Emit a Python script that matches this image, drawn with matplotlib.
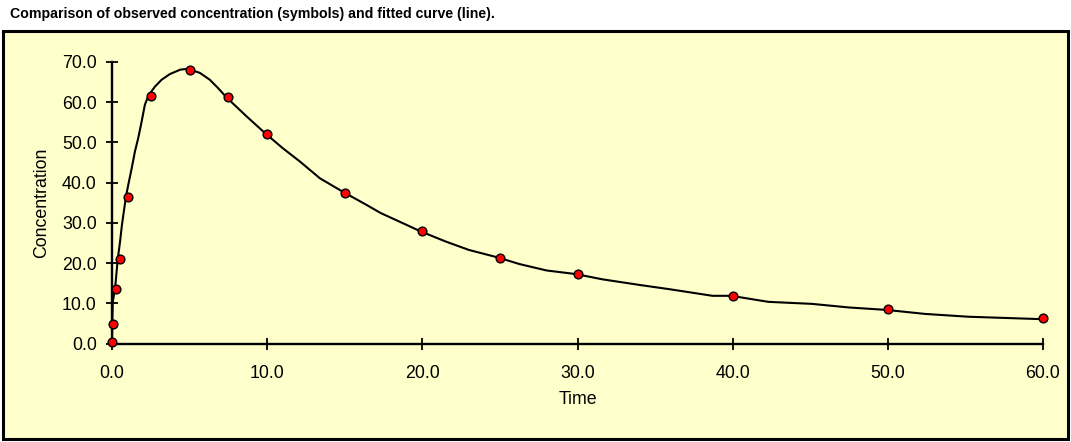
import matplotlib.pyplot as plt
from matplotlib.patches import Rectangle

plt.rcParams['font.family'] = ['Liberation Sans', 'DejaVu Sans']

# observed samples
obs_time = [0.0, 0.05, 0.25, 0.5, 1.0, 2.5, 5.0, 7.5, 10.0, 15.0, 20.0, 25.0, 30.0, 40.0, 50.0, 60.0]
obs_conc = [0.4, 5.0, 13.7, 21.1, 36.5, 61.6, 68.1, 61.2, 52.2, 37.5, 27.9, 21.4, 17.4, 11.9, 8.5, 6.5]

# fitted model curve
fit_time = [0.0, 0.02, 0.05, 0.2, 0.37, 0.52, 0.64, 0.9, 1.05, 1.27, 1.48, 1.69, 1.91,
            2.12, 2.36, 2.77, 3.2, 3.73, 4.4, 4.87, 5.66, 6.3, 6.84, 7.38, 8.67, 9.9,
            11.0, 12.1, 13.4, 14.9, 16.4, 17.3, 19.9, 21.5, 23.0, 24.9, 26.25, 28.0,
            29.9, 31.6, 34.0, 36.0, 38.7, 39.9, 42.3, 45.1, 47.5, 49.9, 52.4, 55.2, 59.9]
fit_conc = [0.5, 5.5, 10.4, 13.8, 21.0, 25.4, 29.5, 36.6, 39.5, 43.6, 47.8, 51.1, 55.2,
            59.4, 61.7, 63.9, 65.6, 67.0, 68.1, 68.3, 67.3, 65.6, 63.5, 61.2, 56.5, 52.2,
            48.6, 45.3, 41.1, 37.7, 34.5, 32.5, 27.9, 25.4, 23.3, 21.4, 19.8, 18.2,
            17.3, 16.0, 14.6, 13.5, 11.9, 11.9, 10.4, 9.9, 9.0, 8.4, 7.4, 6.7, 6.1]

W, H = 1071, 442
fig = plt.figure(figsize=(W / 100, H / 100), dpi=100)
fig.patch.set_facecolor('white')

# yellow chart panel with black frame
fig.patches.append(Rectangle((3 / W, 1 - 439 / H), 1065 / W, 408 / H,
                             transform=fig.transFigure, facecolor='#FFFFCC',
                             edgecolor='black', linewidth=2.2, zorder=0))

fig.text(10 / W, 1 - 18 / H, 'Comparison of observed concentration (symbols) and fitted curve (line).',
         fontsize=10.2, fontweight='bold', ha='left', va='baseline')

ax_w, ax_h = 931, 281.7
ax = fig.add_axes([112 / W, 1 - 343.7 / H, ax_w / W, ax_h / H])
ax.set_zorder(2)
ax.patch.set_alpha(0)

ax.plot(fit_time, fit_conc, color='black', linewidth=1.5, zorder=2)
ax.plot(obs_time, obs_conc, linestyle='none', marker='o', markersize=6.3,
        markerfacecolor='red', markeredgecolor='black', markeredgewidth=1,
        clip_on=False, zorder=3)

ax.set_xlim(0, 60)
ax.set_ylim(0, 70)
ax.set_xticks(range(0, 61, 10))
ax.set_yticks(range(0, 71, 10))
ax.xaxis.set_major_formatter(plt.FormatStrFormatter('%.1f'))
ax.yaxis.set_major_formatter(plt.FormatStrFormatter('%.1f'))

for side in ['top', 'right']:
    ax.spines[side].set_visible(False)
for side in ['left', 'bottom']:
    ax.spines[side].set_linewidth(1.7)

ax.tick_params(axis='x', direction='inout', length=9, width=1.3, pad=10.5, labelsize=12.8)
ax.tick_params(axis='y', direction='inout', length=9, width=1.3, pad=6.5, labelsize=12.8)

ax.set_xlabel('Time', fontsize=12.8, va='center')
ax.xaxis.set_label_coords(0.5, (343.7 - 399) / ax_h)
ax.set_ylabel('Concentration', fontsize=12.8, va='center')
ax.yaxis.set_label_coords((41.5 - 112) / ax_w, 0.5)

fig.savefig('out.png', dpi=100)
